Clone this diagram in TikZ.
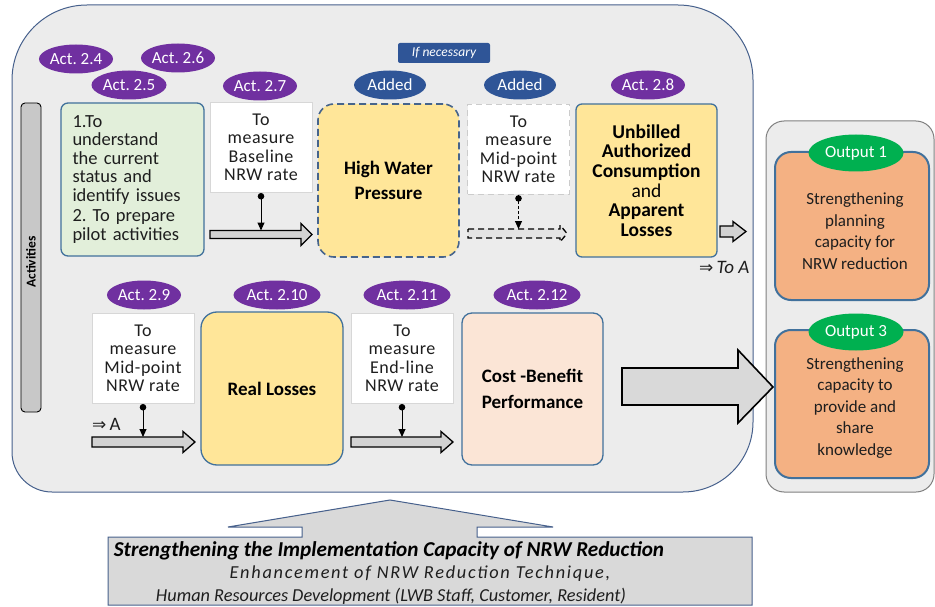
\documentclass[tikz,border=0pt]{standalone}
\usepackage{fontspec}
\setmainfont{Carlito}
\newfontfamily\symfont{DejaVu Sans}
\usetikzlibrary{shapes.geometric,arrows.meta}
\frenchspacing

\definecolor{mainfill}{RGB}{236,236,236}
\definecolor{mainline}{RGB}{70,96,140}
\definecolor{actpurple}{RGB}{112,48,160}
\definecolor{addblue}{RGB}{47,85,151}
\definecolor{boxline}{RGB}{65,113,156}
\definecolor{hwpline}{RGB}{70,100,140}
\definecolor{greenfill}{RGB}{226,239,218}
\definecolor{yellowfill}{RGB}{255,230,153}
\definecolor{peachfill}{RGB}{251,229,214}
\definecolor{outfill}{RGB}{244,177,131}
\definecolor{outgreen}{RGB}{0,176,80}
\definecolor{barfill}{RGB}{200,200,200}
\definecolor{arrowfill}{RGB}{217,217,217}
\definecolor{arrowgray}{RGB}{210,210,210}
\definecolor{whiteline}{RGB}{215,215,215}
\definecolor{textdark}{RGB}{30,30,30}

% block arrow: [style]{x start}{x tip}{y}{shaft half height}{head half height}{head length}
\newcommand\blockarrow[7][]{%
  \draw[blockarrow,#1] (#2,#4-#5) -- (#3-#7,#4-#5) -- (#3-#7,#4-#6) -- (#3,#4)
    -- (#3-#7,#4+#6) -- (#3-#7,#4+#5) -- (#2,#4+#5) -- cycle;}

\begin{document}
\begin{tikzpicture}[x=1pt,y=-1pt,
  act/.style={ellipse,fill=actpurple,text=white,inner sep=0pt,minimum width=72pt,
    minimum height=29pt,font=\fontsize{17}{18}\selectfont},
  added/.style={act,fill=addblue},
  outtag/.style={ellipse,fill=outgreen,text=white,inner sep=0pt,minimum width=95pt,
    minimum height=37pt,font=\fontsize{17}{20}\selectfont},
  stepbox/.style={draw=boxline,line width=1.3pt,rounded corners=7pt,inner sep=0pt,
    align=center,text=black},
  measbox/.style={draw=whiteline,fill=white,line width=1pt,inner sep=0pt,
    minimum width=102pt,minimum height=90pt,align=center,
    font=\fontsize{18}{18.5}\selectfont\addfontfeature{LetterSpace=3},text=textdark},
  bigtext/.style={font=\bfseries\fontsize{19}{25}\selectfont},
  outbox/.style={draw=boxline,fill=outfill,line width=2pt,rounded corners=16pt,
    minimum width=154pt,minimum height=148pt},
  outtext/.style={align=center,text=textdark,inner sep=0pt,font=\fontsize{17}{21.5}\selectfont},
  blockarrow/.style={draw=black,fill=arrowgray,line width=1.3pt,line join=miter},
  pin/.style={line width=1pt,{Circle[length=6.5pt]}-{Triangle[length=8pt,width=7pt]}},
]
\useasboundingbox (0,0) rectangle (935,607);

% activities panel
\draw[draw=mainline,fill=mainfill,line width=1pt]
  (12,80) arc[start angle=180,end angle=270,radius=75] -- (678,5)
  arc[start angle=270,end angle=360,radius=75] -- (753,422)
  arc[start angle=0,end angle=90,radius=70] -- (52,492)
  arc[start angle=90,end angle=180,radius=40] -- cycle;

% outputs panel
\node[draw=gray,fill=mainfill,rounded corners=18pt,minimum width=168pt,
  minimum height=371pt,line width=1pt] (outpanel) at (850,306.5) {};

% side label
\node[draw=black,fill=barfill,rounded corners=4pt,line width=0.9pt,minimum width=20pt,
  minimum height=309pt,inner sep=0pt] (actbar) at (31,257.5) {};
\node[rotate=90,font=\bfseries\fontsize{13.5}{16}\selectfont] (actlabel) at (31,262) {Activities};

% first row
\node[stepbox,fill=greenfill,minimum width=143pt,minimum height=153pt,text width=120pt,
  align=left,font=\fontsize{18.5}{18.5}\selectfont,text=textdark] (prep) at (132.5,179.5)
  {1.To\\understand\\the current\\status and\\identify issues\\[2pt]2. To prepare\\pilot activities};
\node[measbox] (base) at (261,147.5) {To\\measure\\Baseline\\NRW rate};
\node[stepbox,fill=yellowfill,draw=hwpline,line width=1.6pt,dash pattern=on 7pt off 4pt,
  rounded corners=16pt,minimum width=141pt,minimum height=153pt,bigtext] (hwp)
  at (388.5,180.5) {High Water\\Pressure};
\node[measbox,draw=gray!40,line width=1.3pt,dash pattern=on 6pt off 4pt] (mid1)
  at (518.5,149.5) {To\\measure\\Mid-point\\NRW rate};
\node[stepbox,fill=yellowfill,rounded corners=6pt,minimum width=141pt,minimum height=153pt,
  font=\fontsize{19.5}{19.7}\selectfont] (uac) at (646.5,180.5)
  {\textbf{Unbilled}\\\textbf{Authorized}\\\textbf{Consumption}\\and\\\textbf{Apparent}\\\textbf{Losses}};

% second row
\node[measbox] (mid2) at (143,358.5) {To\\measure\\Mid-point\\NRW rate};
\node[stepbox,fill=yellowfill,rounded corners=16pt,minimum width=142pt,minimum height=153pt,
  bigtext] (real) at (272,388.5) {Real Losses};
\node[measbox] (endl) at (402,358.5) {To\\measure\\End-line\\NRW rate};
\node[stepbox,fill=peachfill,rounded corners=10pt,minimum width=141pt,minimum height=152pt,
  font=\bfseries\fontsize{19}{26}\selectfont] (cost) at (532.5,389) {Cost -Benefit\\Performance};

% activity tags
\node[act] (a24) at (76,59) {Act. 2.4};
\node[act,minimum width=70pt] (a26) at (178,58) {Act. 2.6};
\node[act,minimum width=75pt] (a25) at (129,85) {Act. 2.5};
\node[act,minimum width=70pt] (a27) at (260,86) {Act. 2.7};
\node[added] (add1) at (390,85) {Added};
\node[added] (add2) at (520,85) {Added};
\node[act,minimum width=70pt] (a28) at (648,85) {Act. 2.8};
\node[act] (a29) at (144,295) {Act. 2.9};
\node[act,minimum width=87pt] (a210) at (277,295) {Act. 2.10};
\node[act,minimum width=87pt] (a211) at (407,295) {Act. 2.11};
\node[act,minimum width=87pt] (a212) at (537,295) {Act. 2.12};
\node[fill=addblue,rounded corners=2pt,minimum width=92pt,minimum height=20pt,inner sep=0pt,
  text=white,font=\itshape\fontsize{13.5}{16}\selectfont] (ifnec) at (444,53) {If necessary};

% flow arrows with measuring points
\blockarrow{210}{312}{234.5}{4}{11}{11}
\coordinate (a1) at (261,230.5);
\draw[pin] (base.south) -- (a1);

\blockarrow[dash pattern=on 6pt off 4pt,fill=arrowgray!60]{468}{567}{233.5}{4.5}{8.5}{7}
\coordinate (a2) at (518.5,229);
\draw[pin,dash pattern=on 3pt off 2pt] (mid1.south) -- (a2);

\blockarrow{720}{746}{231.5}{5.5}{10}{13}
\node[anchor=west,inner sep=0pt,font=\fontsize{19}{20}\selectfont,text=textdark] (toA)
  at (699,267) {{\symfont\fontsize{17}{18}\selectfont ⇒}\,\textit{To A}};

\blockarrow{92}{195}{442}{5}{10.5}{12}
\coordinate (a3) at (143,437);
\draw[pin] (mid2.south) -- (a3);
\node[anchor=west,inner sep=0pt,font=\fontsize{19}{20}\selectfont,text=textdark] (fromA)
  at (92,424) {{\symfont\fontsize{17}{18}\selectfont ⇒}\,A};

\blockarrow{351}{453}{442}{5}{10.5}{12}
\coordinate (a4) at (402,437);
\draw[pin] (endl.south) -- (a4);

% arrow into the outputs
\draw[line width=1.6pt,fill=arrowfill,line join=miter] (622,368) -- (738,368) -- (738,350)
  -- (773,387) -- (738,423) -- (738,405) -- (622,405) -- cycle;

% outputs
\node[outbox] (out1) at (852,226) {};
\node[outtext] (out1txt) at (855,231) {Strengthening\\planning\\capacity for\\NRW reduction};
\node[outtag] (o1tag) at (856,153) {Output 1};
\node[outbox] (out3) at (852,404) {};
\node[outtext] (out3txt) at (855,408) {Strengthening\\capacity to\\provide and\\share\\knowledge};
\node[outtag] (o3tag) at (856,332) {Output 3};

% base capacity block with upward arrow
\draw[draw=mainline,fill=arrowfill,line width=1pt] (108,605) -- (108,537) -- (302,537)
  -- (302,527) -- (228,527) -- (390,500) -- (553,527) -- (477,527) -- (477,537)
  -- (752,537) -- (752,605) -- cycle;
\node[font=\bfseries\itshape\fontsize{21.2}{22}\selectfont,text=black] (capa1) at (389,551)
  {Strengthening the Implementation Capacity of NRW Reduction};
\node[font=\itshape\fontsize{18.3}{22}\selectfont\addfontfeature{LetterSpace=9.5},text=textdark]
  (capa2) at (420,574) {Enhancement of NRW Reduction Technique,};
\node[font=\itshape\fontsize{18.3}{22}\selectfont,text=textdark] (capa3) at (391,596)
  {Human Resources Development (LWB Staff, Customer, Resident)};
\end{tikzpicture}
\end{document}
